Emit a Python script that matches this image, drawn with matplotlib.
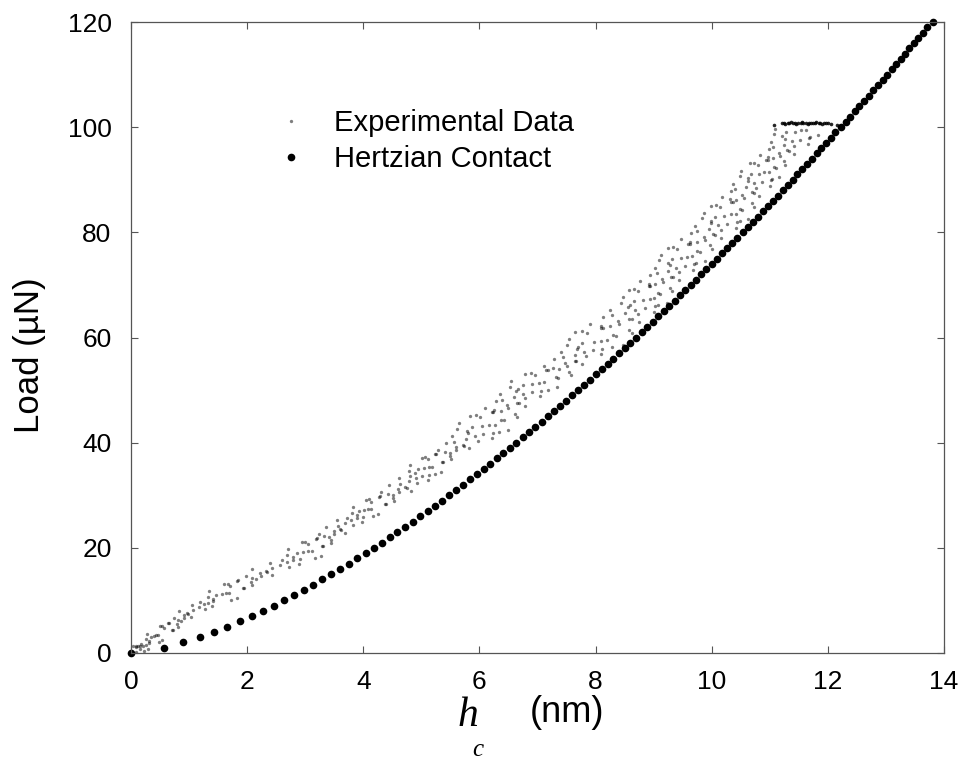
import matplotlib
matplotlib.use("Agg")
import matplotlib.pyplot as plt

plt.rcParams['font.family'] = ['Liberation Sans', 'DejaVu Sans']

# Hertzian contact: one point per 1 uN of load
hertz_p = [0, 1, 2, 3, 4, 5, 6, 7, 8, 9, 10, 11, 12, 13, 14, 15, 16, 17, 18, 19,
           20, 21, 22, 23, 24, 25, 26, 27, 28, 29, 30, 31, 32, 33, 34, 35, 36, 37, 38, 39,
           40, 41, 42, 43, 44, 45, 46, 47, 48, 49, 50, 51, 52, 53, 54, 55, 56, 57, 58, 59,
           60, 61, 62, 63, 64, 65, 66, 67, 68, 69, 70, 71, 72, 73, 74, 75, 76, 77, 78, 79,
           80, 81, 82, 83, 84, 85, 86, 87, 88, 89, 90, 91, 92, 93, 94, 95, 96, 97, 98, 99,
           100, 101, 102, 103, 104, 105, 106, 107, 108, 109, 110, 111, 112, 113, 114, 115,
           116, 117, 118, 119, 120]
hertz_h = [0.0, 0.567, 0.901, 1.180, 1.430, 1.659, 1.874, 2.076, 2.270, 2.455,
           2.634, 2.806, 2.974, 3.137, 3.296, 3.451, 3.603, 3.751, 3.897, 4.040,
           4.181, 4.319, 4.455, 4.589, 4.721, 4.851, 4.980, 5.107, 5.232, 5.356,
           5.478, 5.599, 5.719, 5.838, 5.955, 6.071, 6.186, 6.300, 6.413, 6.525,
           6.636, 6.747, 6.856, 6.964, 7.072, 7.179, 7.284, 7.390, 7.494, 7.598,
           7.701, 7.803, 7.905, 8.006, 8.106, 8.206, 8.305, 8.404, 8.502, 8.599,
           8.696, 8.793, 8.888, 8.984, 9.078, 9.173, 9.267, 9.360, 9.453, 9.545,
           9.637, 9.728, 9.820, 9.910, 10.000, 10.090, 10.179, 10.267, 10.355, 10.443,
           10.535, 10.622, 10.709, 10.796, 10.882, 10.967, 11.053, 11.138, 11.222, 11.306,
           11.393, 11.477, 11.560, 11.643, 11.725, 11.807, 11.888, 11.969, 12.050, 12.131,
           12.224, 12.304, 12.385, 12.464, 12.543, 12.622, 12.701, 12.779, 12.868, 12.946,
           13.023, 13.100, 13.177, 13.253, 13.329, 13.405, 13.481, 13.556, 13.631, 13.706,
           13.804]

exp_h = [0.04, 0.08, 0.12, 0.16,
         0.09, 0.21, 0.31, 0.16, 0.26, 0.34, 0.49, 0.27, 0.43, 0.54,
         0.65, 0.56, 0.80, 0.72, 0.50, 0.91, 0.82, 1.03, 0.97, 0.86,
         1.07, 1.25, 1.41, 1.17, 1.32, 1.47, 1.73, 1.34, 1.63, 1.82,
         1.85, 1.71, 2.07, 1.95, 1.61, 2.24, 2.09, 2.42, 2.33, 2.15,
         2.42, 2.68, 2.91, 2.57, 2.79, 2.85, 3.16, 2.70, 3.04, 3.27,
         3.20, 3.05, 3.44, 3.31, 2.94, 3.50, 3.35, 3.69, 3.60, 3.41,
         3.56, 3.79, 3.99, 3.69, 3.89, 3.93, 4.17, 3.82, 4.08, 4.25,
         4.28, 4.14, 4.51, 4.39, 4.04, 4.61, 4.44, 4.83, 4.72, 4.51,
         4.63, 4.90, 5.13, 4.78, 5.01, 4.94, 5.24, 4.80, 5.13, 5.34,
         5.26, 5.12, 5.49, 5.37, 5.01, 5.60, 5.43, 5.82, 5.71, 5.50,
         5.56, 5.92, 6.24, 5.77, 6.07, 5.87, 6.34, 5.65, 6.16, 6.50,
         6.24, 6.01, 6.61, 6.42, 5.84, 6.50, 6.28, 6.79, 6.64, 6.37,
         6.39, 6.75, 7.06, 6.59, 6.90, 6.75, 7.18, 6.55, 7.02, 7.33,
         7.18, 6.96, 7.54, 7.35, 6.79, 7.50, 7.29, 7.77, 7.64, 7.37,
         7.44, 7.80, 8.11, 7.64, 7.95, 7.77, 8.29, 7.54, 8.10, 8.47,
         8.13, 7.85, 8.58, 8.35, 7.65, 8.40, 8.13, 8.75, 8.58, 8.24,
         8.28, 8.68, 9.03, 8.51, 8.85, 8.66, 9.08, 8.47, 8.93, 9.23,
         8.94, 8.73, 9.29, 9.11, 8.57, 9.16, 8.94, 9.44, 9.30, 9.03,
         9.05, 9.39, 9.69, 9.25, 9.54, 9.31, 9.73, 9.12, 9.58, 9.88,
         9.62, 9.40, 9.97, 9.79, 9.24, 9.88, 9.65, 10.16, 10.02, 9.74,
         9.74, 10.11, 10.43, 9.95, 10.27, 10.06, 10.48, 9.87, 10.33, 10.63,
         10.36, 10.15, 10.70, 10.52, 9.99, 10.55, 10.34, 10.82, 10.69, 10.42,
         10.40, 10.73, 11.02, 10.59, 10.87, 10.68, 11.04, 10.51, 10.90, 11.16,
         10.97, 10.79, 11.25, 11.10, 10.66, 11.18, 10.99, 11.42, 11.30, 11.06,
         11.05, 11.38, 11.67, 11.24, 11.52, 11.28, 11.69, 11.09, 11.54, 11.83]
exp_p = [1.3, 1.3, 1.35, 1.3,
         0.2, 1.3, 1.9, 0.7, 1.6, 3.0, 2.1, 3.7, 3.4, 2.5,
         5.8, 4.8, 5.5, 4.3, 5.1, 6.6, 7.9, 6.9, 7.6, 6.1,
         8.2, 9.3, 9.9, 8.7, 9.6, 11.0, 10.1, 11.7, 11.4, 10.5,
         13.8, 12.8, 13.5, 12.3, 13.1, 14.6, 15.9, 14.9, 15.6, 14.1,
         16.2, 17.3, 17.9, 16.7, 17.6, 19.0, 18.1, 19.7, 19.4, 18.5,
         21.8, 20.8, 21.5, 20.3, 21.1, 22.6, 23.9, 22.9, 23.6, 22.1,
         24.2, 25.3, 25.9, 24.7, 25.6, 27.0, 26.1, 27.7, 27.4, 26.5,
         29.8, 28.8, 29.5, 28.3, 29.1, 30.6, 31.9, 30.9, 31.6, 30.1,
         32.2, 33.3, 33.9, 32.7, 33.6, 35.0, 34.1, 35.7, 35.4, 34.5,
         37.8, 36.8, 37.5, 36.3, 37.1, 38.6, 39.9, 38.9, 39.6, 38.1,
         40.2, 41.3, 41.9, 40.7, 41.6, 43.0, 42.1, 43.7, 43.4, 42.5,
         45.8, 44.8, 45.5, 44.3, 45.1, 46.6, 47.9, 46.9, 47.6, 46.1,
         48.2, 49.3, 49.9, 48.7, 49.6, 51.0, 50.1, 51.7, 51.4, 50.5,
         53.8, 52.8, 53.5, 52.3, 53.1, 54.6, 55.9, 54.9, 55.6, 54.1,
         56.2, 57.3, 57.9, 56.7, 57.6, 59.0, 58.1, 59.7, 59.4, 58.5,
         61.8, 60.8, 61.5, 60.3, 61.1, 62.6, 63.9, 62.9, 63.6, 62.1,
         64.2, 65.3, 65.9, 64.7, 65.6, 67.0, 66.1, 67.7, 67.4, 66.5,
         69.8, 68.8, 69.5, 68.3, 69.1, 70.6, 71.9, 70.9, 71.6, 70.1,
         72.2, 73.3, 73.9, 72.7, 73.6, 75.0, 74.1, 75.7, 75.4, 74.5,
         77.8, 76.8, 77.5, 76.3, 77.1, 78.6, 79.9, 78.9, 79.6, 78.1,
         80.2, 81.3, 81.9, 80.7, 81.6, 83.0, 82.1, 83.7, 83.4, 82.5,
         85.8, 84.8, 85.5, 84.3, 85.1, 86.6, 87.9, 86.9, 87.6, 86.1,
         88.2, 89.3, 89.9, 88.7, 89.6, 91.0, 90.1, 91.7, 91.4, 90.5,
         93.8, 92.8, 93.5, 92.3, 93.1, 94.6, 95.9, 94.9, 95.6, 94.1,
         96.2, 97.3, 97.9, 96.7, 97.6, 99.0, 98.1, 99.7, 99.4, 98.5]

# second pass over the band, filling between the first readings
exp_h2 = [0.22, 0.08, 0.17, 0.30, 0.46, 0.31, 0.39, 0.26,
          0.71, 0.53, 0.64, 0.81, 0.99, 0.81, 0.91, 0.74,
          1.27, 1.05, 1.19, 1.40, 1.69, 1.42, 1.56, 1.33,
          1.93, 1.67, 1.83, 2.08, 2.35, 2.08, 2.23, 1.98,
          2.72, 2.40, 2.60, 2.90, 3.11, 2.79, 2.96, 2.68,
          3.29, 3.00, 3.18, 3.45, 3.62, 3.33, 3.49, 3.23,
          3.82, 3.54, 3.72, 3.98, 4.13, 3.89, 4.02, 3.80,
          4.37, 4.09, 4.27, 4.53, 4.75, 4.42, 4.60, 4.31,
          4.93, 4.61, 4.81, 5.12, 5.19, 4.89, 5.05, 4.78,
          5.35, 5.07, 5.24, 5.51, 5.74, 5.40, 5.59, 5.29,
          5.97, 5.53, 5.80, 6.22, 6.26, 5.79, 6.04, 5.62,
          6.38, 5.94, 6.21, 6.64, 6.68, 6.25, 6.48, 6.10,
          6.79, 6.36, 6.63, 7.04, 7.11, 6.67, 6.91, 6.52,
          7.32, 6.88, 7.15, 7.57, 7.67, 7.26, 7.48, 7.12,
          7.84, 7.41, 7.68, 8.09, 8.20, 7.69, 7.97, 7.50,
          8.30, 7.76, 8.10, 8.62, 8.62, 8.09, 8.38, 7.91,
          8.73, 8.25, 8.55, 9.01, 9.01, 8.59, 8.82, 8.44,
          9.08, 8.66, 8.92, 9.32, 9.34, 8.92, 9.15, 8.77,
          9.44, 9.03, 9.28, 9.67, 9.66, 9.24, 9.47, 9.09,
          9.75, 9.33, 9.59, 10.00, 10.06, 9.62, 9.86, 9.47,
          10.16, 9.71, 9.99, 10.41, 10.41, 9.99, 10.22, 9.84,
          10.49, 10.08, 10.33, 10.72, 10.72, 10.31, 10.53, 10.17,
          10.77, 10.37, 10.62, 11.00, 10.98, 10.62, 10.81, 10.49,
          11.07, 10.73, 10.94, 11.27, 11.33, 10.97, 11.16, 10.84,
          11.42, 11.02, 11.27, 11.65, 11.62, 11.21, 11.43, 11.07]
exp_p2 = [0.4, 1.2, 1.75, 0.85, 3.45, 2.25, 3.15, 2.65,
          4.4, 5.2, 5.75, 4.85, 7.45, 6.25, 7.15, 6.65,
          8.4, 9.2, 9.75, 8.85, 11.45, 10.25, 11.15, 10.65,
          12.4, 13.2, 13.75, 12.85, 15.45, 14.25, 15.15, 14.65,
          16.4, 17.2, 17.75, 16.85, 19.45, 18.25, 19.15, 18.65,
          20.4, 21.2, 21.75, 20.85, 23.45, 22.25, 23.15, 22.65,
          24.4, 25.2, 25.75, 24.85, 27.45, 26.25, 27.15, 26.65,
          28.4, 29.2, 29.75, 28.85, 31.45, 30.25, 31.15, 30.65,
          32.4, 33.2, 33.75, 32.85, 35.45, 34.25, 35.15, 34.65,
          36.4, 37.2, 37.75, 36.85, 39.45, 38.25, 39.15, 38.65,
          40.4, 41.2, 41.75, 40.85, 43.45, 42.25, 43.15, 42.65,
          44.4, 45.2, 45.75, 44.85, 47.45, 46.25, 47.15, 46.65,
          48.4, 49.2, 49.75, 48.85, 51.45, 50.25, 51.15, 50.65,
          52.4, 53.2, 53.75, 52.85, 55.45, 54.25, 55.15, 54.65,
          56.4, 57.2, 57.75, 56.85, 59.45, 58.25, 59.15, 58.65,
          60.4, 61.2, 61.75, 60.85, 63.45, 62.25, 63.15, 62.65,
          64.4, 65.2, 65.75, 64.85, 67.45, 66.25, 67.15, 66.65,
          68.4, 69.2, 69.75, 68.85, 71.45, 70.25, 71.15, 70.65,
          72.4, 73.2, 73.75, 72.85, 75.45, 74.25, 75.15, 74.65,
          76.4, 77.2, 77.75, 76.85, 79.45, 78.25, 79.15, 78.65,
          80.4, 81.2, 81.75, 80.85, 83.45, 82.25, 83.15, 82.65,
          84.4, 85.2, 85.75, 84.85, 87.45, 86.25, 87.15, 86.65,
          88.4, 89.2, 89.75, 88.85, 91.45, 90.25, 91.15, 90.65,
          92.4, 93.2, 93.75, 92.85, 95.45, 94.25, 95.15, 94.65,
          96.4, 97.2, 97.75, 96.85, 99.45, 98.25, 99.15, 98.65]

# hold at peak load
hold_h = [11.08, 11.21, 11.24, 11.27, 11.31, 11.33, 11.36, 11.40, 11.43, 11.46,
          11.49, 11.53, 11.55, 11.58, 11.62, 11.65, 11.68, 11.71, 11.74, 11.77,
          11.80, 11.84, 11.87, 11.90, 11.93, 11.97, 12.01, 12.05, 12.15]
hold_p = [100.4, 100.7, 100.8, 100.6, 100.8, 100.7, 100.9, 100.7, 100.8, 100.6,
          100.8, 100.7, 100.9, 100.7, 100.8, 100.6, 100.8, 100.7, 100.8, 100.7,
          100.9, 100.7, 100.8, 100.6, 100.8, 100.7, 100.8, 100.6, 100.5]

fig = plt.figure(figsize=(9.76, 7.68), dpi=100)
ax = fig.add_axes([131/976, 115/768, 813/976, 631/768])

exp_line, = ax.plot(exp_h + exp_h2, exp_p + exp_p2, 'o', color='black', ms=2.4,
                    mew=0, alpha=0.5, label='Experimental Data')
ax.plot(hold_h, hold_p, 'o', color='black', ms=2.6, mew=0, alpha=0.85)
hz_line, = ax.plot(hertz_h, hertz_p, 'o', color='black', ms=5.5, mew=0,
                   label='Hertzian Contact', clip_on=False)

ax.set_xlim(0, 14)
ax.set_ylim(0, 120)
ax.set_xticks(range(0, 15, 2))
ax.set_yticks(range(0, 121, 20))
ax.tick_params(direction='in', length=5, width=0.8, color='#555',
               top=True, right=True, labelsize=19)
ax.tick_params(axis='x', pad=12)
ax.tick_params(axis='y', pad=14)
for s in ax.spines.values():
    s.set_linewidth(0.9)
    s.set_color('#555')

leg = ax.legend(handles=[exp_line, hz_line], loc='upper left',
                bbox_to_anchor=(0.18, 0.862), frameon=False, fontsize=21,
                handlelength=0.95, handletextpad=1.0, labelspacing=0.27,
                borderaxespad=0, borderpad=0)

fig.text(29/976, 1 - 355/768, 'Load (\u00b5N)', rotation=90, fontsize=25,
         ha='center', va='center')
fig.text(468/976, 1 - 716/768, 'h', family='Liberation Serif', style='italic',
         fontsize=30, ha='center', va='center')
fig.text(478/976, 1 - 750/768, 'c', family='Liberation Serif', style='italic',
         fontsize=18, ha='center', va='center')
fig.text(567/976, 1 - 712/768, '(nm)', fontsize=26, ha='center', va='center')

fig.savefig('out.png', dpi=100)
